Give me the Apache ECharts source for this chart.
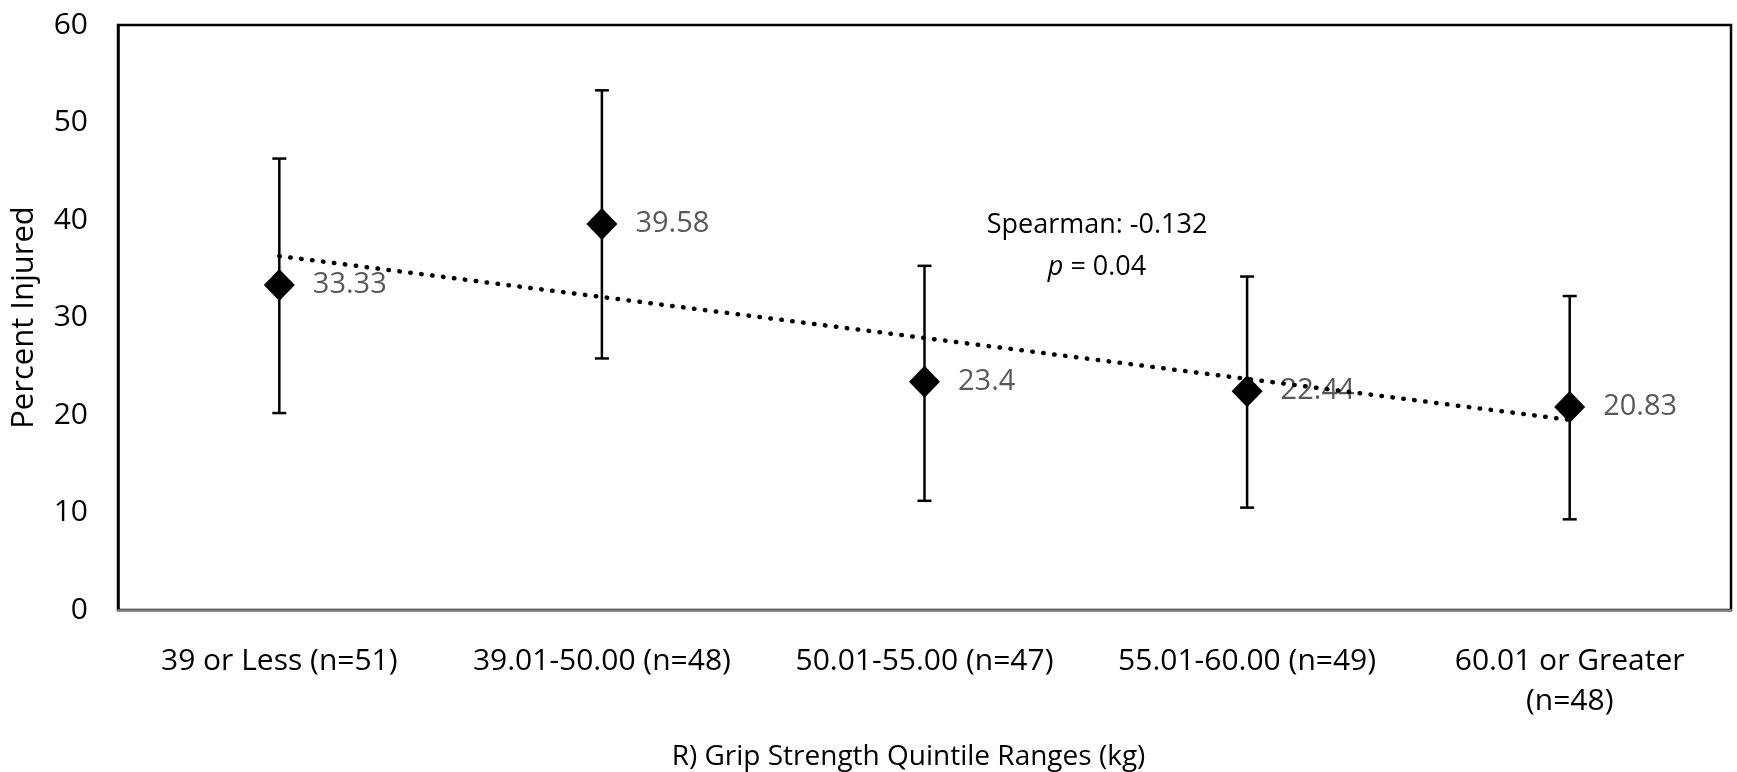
<!DOCTYPE html>
<html><head><meta charset="utf-8">
<script src="https://cdn.jsdelivr.net/npm/echarts@6/dist/echarts.min.js"></script>
<style>html,body{margin:0;padding:0;background:#fff}#c{width:1737px;height:772px}</style>
</head><body><div id="c"></div>
<script>
const categories = ['39 or Less (n=51)', '39.01-50.00 (n=48)', '50.01-55.00 (n=47)', '55.01-60.00 (n=49)', '60.01 or Greater\n(n=48)'];
const percentInjured = [33.33, 39.58, 23.4, 22.44, 20.83];
const errorLow = [20.2, 25.8, 11.2, 10.5, 9.3];
const errorHigh = [46.3, 53.3, 35.3, 34.2, 32.2];
const trendStartEnd = [36.3, 19.5];
const yTicks = [0, 10, 20, 30, 40, 50, 60];
const spearmanText = 'Spearman: -0.132';
const pText = '{i|p} = 0.04';

const FONT = '"Open Sans", sans-serif';
const chart = echarts.init(document.getElementById('c'), null, {renderer: 'canvas'});

const errData = categories.map((c, i) => [i, errorLow[i], errorHigh[i]]);
const trendData = [[0, trendStartEnd[0]], [categories.length - 1, trendStartEnd[1]]];

chart.setOption({
  animation: false,
  backgroundColor: '#fff',
  grid: {left: 118, right: 6, top: 25, bottom: 162, outerBoundsMode: 'none', containLabel: false, show: true, borderColor: '#000', borderWidth: 2.5, backgroundColor: 'transparent'},
  xAxis: {
    type: 'category', data: categories, boundaryGap: true,
    axisLine: {show: true, lineStyle: {color: '#808080', width: 2.5}},
    axisTick: {show: false},
    axisLabel: {color: '#000', fontFamily: FONT, fontSize: 30, margin: 31, lineHeight: 40, interval: 0},
    name: 'R) Grip Strength Quintile Ranges (kg)', nameLocation: 'middle', nameGap: 133,
    nameTextStyle: {color: '#000', fontFamily: FONT, fontSize: 28, padding: [0, 32, 0, 0]}
  },
  yAxis: {
    type: 'value', min: yTicks[0], max: yTicks[yTicks.length - 1], interval: yTicks[1] - yTicks[0],
    axisLine: {show: true, lineStyle: {color: '#000', width: 2.5}},
    axisTick: {show: false},
    splitLine: {show: false},
    axisLabel: {color: '#000', fontFamily: FONT, fontSize: 30, margin: 30},
    name: 'Percent Injured', nameLocation: 'middle', nameGap: 78,
    nameTextStyle: {color: '#000', fontFamily: FONT, fontSize: 31}
  },
  series: [
    {
      type: 'custom', name: 'err', data: errData, encode: {x: 0, y: [1, 2]}, z: 2,
      renderItem: function (params, api) {
        const x = api.value(0);
        const lo = api.coord([x, api.value(1)]);
        const hi = api.coord([x, api.value(2)]);
        const cap = 7;
        const st = {stroke: '#000', lineWidth: 2.5};
        return {type: 'group', children: [
          {type: 'line', shape: {x1: lo[0], y1: lo[1], x2: hi[0], y2: hi[1]}, style: st},
          {type: 'line', shape: {x1: hi[0] - cap, y1: hi[1], x2: hi[0] + cap, y2: hi[1]}, style: st},
          {type: 'line', shape: {x1: lo[0] - cap, y1: lo[1], x2: lo[0] + cap, y2: lo[1]}, style: st}
        ]};
      }
    },
    {
      type: 'line', name: 'Percent', data: percentInjured, z: 3,
      lineStyle: {width: 0, opacity: 0},
      symbol: 'diamond', symbolSize: [31, 32],
      itemStyle: {color: '#000'},
      label: {show: true, position: 'right', distance: 18, color: '#595959', fontFamily: FONT, fontSize: 29}
    },
    {
      type: 'line', name: 'trend', data: trendData, z: 4, symbol: 'none',
      lineStyle: {color: '#000', width: 4.5, type: [0.5, 10.5], cap: 'round'}
    }
  ],
  graphic: [
    {type: 'text', x: 1097, y: 225, z: 10, style: {text: spearmanText, align: 'center', verticalAlign: 'middle', font: '27px "Open Sans", sans-serif', fill: '#000'}},
    {type: 'text', x: 1097, y: 267, z: 10, style: {text: pText, align: 'center', verticalAlign: 'middle', font: '27px "Open Sans", sans-serif', fill: '#000', rich: {i: {fontStyle: 'italic', fontFamily: '"Open Sans", sans-serif', fontSize: 27}}}}
  ]
});
</script></body></html>
